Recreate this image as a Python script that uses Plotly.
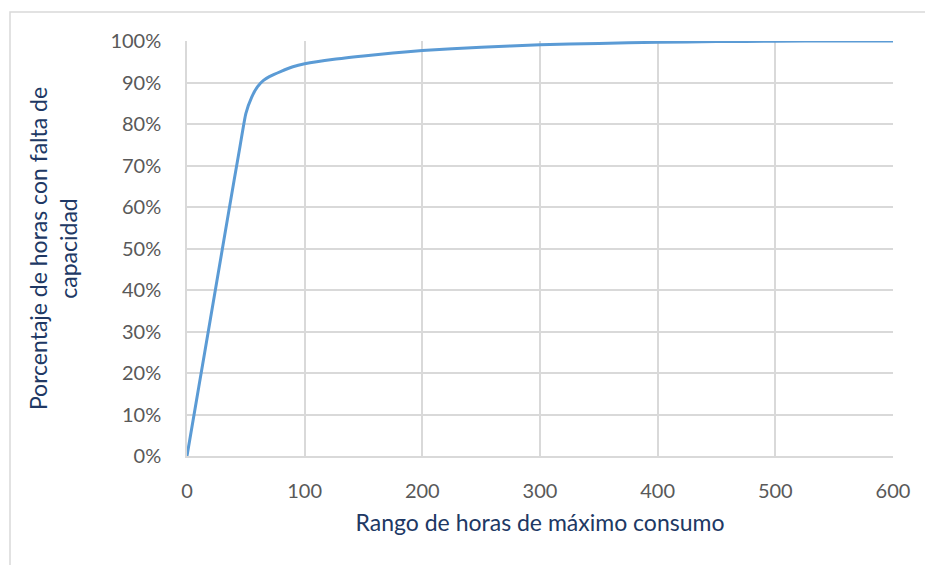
import plotly.graph_objects as go

horas = [0, 10, 20, 30, 40, 45, 50, 55, 60, 65, 70, 80, 90, 100, 125, 150, 175, 200,
         250, 300, 350, 400, 450, 500, 550, 600]
porcentaje = [0.0, 0.166, 0.332, 0.498, 0.664, 0.745, 0.825, 0.865, 0.890, 0.905, 0.914,
              0.927, 0.938, 0.945, 0.956, 0.964, 0.971, 0.977, 0.985, 0.991, 0.994,
              0.997, 0.9985, 0.9995, 1.0, 1.0]

x_ticks = [0, 100, 200, 300, 400, 500, 600]

fig = go.Figure()
fig.add_trace(go.Scatter(
    x=horas, y=porcentaje, mode="lines",
    line=dict(color="#5B9BD5", width=3, shape="spline", smoothing=0.5),
    hoverinfo="skip", showlegend=False))

grid = "#d9d9d9"
tick_font = dict(family="Lato, Carlito, sans-serif", size=20, color="#595959")
title_font = dict(family="Lato, Carlito, sans-serif", size=23, color="#203864")

fig.update_layout(
    width=925, height=565,
    margin=dict(l=187, r=32, t=41, b=109),
    paper_bgcolor="white", plot_bgcolor="white",
    xaxis=dict(range=[0, 600], tickvals=x_ticks, showgrid=True, gridcolor=grid,
               gridwidth=1.5, showline=True, linecolor=grid, linewidth=1.5,
               zeroline=False, ticks="", tickfont=tick_font, ticklabelstandoff=16,
               title=dict(text="Rango de horas de máximo consumo", font=title_font,
                          standoff=14)),
    yaxis=dict(range=[0, 1], dtick=0.1, tickformat=".0%", showgrid=True,
               gridcolor=grid, gridwidth=1.5, showline=True, linecolor=grid,
               linewidth=1.5, zeroline=False, ticks="", tickfont=tick_font,
               ticklabelstandoff=20,
               title=dict(text="Porcentaje de horas con falta de<br>capacidad",
                          font=title_font, standoff=26)),
    shapes=[dict(type="rect", xref="paper", yref="paper",
                 x0=(10 - 187) / 706, x1=1.2, y0=-0.5, y1=(456 - 12) / 415,
                 line=dict(color="#d9d9d9", width=1.5), layer="below")],
)

fig.write_html("out.html")
